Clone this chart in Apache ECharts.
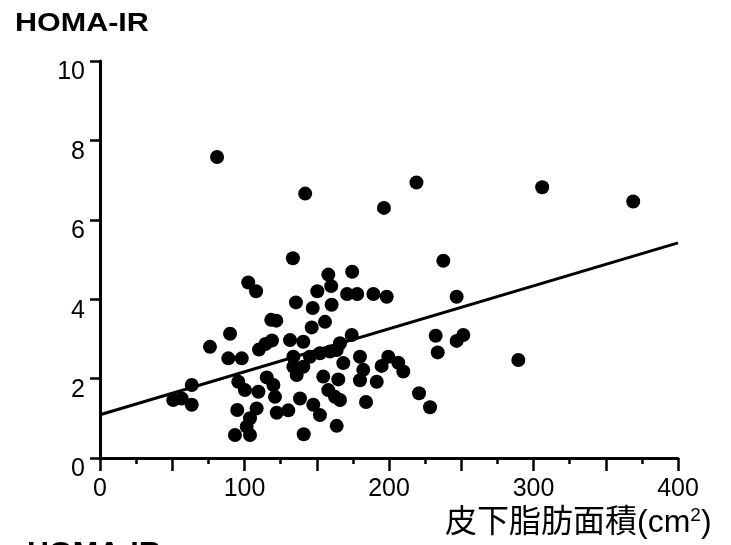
<!DOCTYPE html>
<html>
<head>
<meta charset="utf-8">
<script src="https://cdn.jsdelivr.net/npm/echarts@6/dist/echarts.min.js"></script>
<style>
html,body{margin:0;padding:0;background:#fff;}
#main{width:731px;height:545px;}
</style>
</head>
<body>
<div id="main"></div>
<script>
// Subcutaneous fat area (cm2)
const area = [81, 142, 219, 196.5, 306, 369, 133.5, 237.6, 174.5, 158,
  160, 102.6, 108, 150.4, 171, 178, 189.2, 198.4, 246.8, 135.6,
  147.2, 160.3, 118.5, 122, 155.7, 146.5, 90, 76.1, 110, 114.5,
  119, 131.5, 140.7, 174.2, 166.1, 232.3, 251.4, 246.8, 233.7, 289.5,
  88.8, 98.1, 133.8, 133.8, 136.1, 140.7, 145.3, 152.2, 159.2, 163.8,
  168.4, 179.9, 182.2, 179.9, 191.5, 194.9, 199.5, 206.4, 209.9, 115.4,
  120, 121.1, 154.5, 164.9, 158, 162.6, 166.1, 138.4, 147.6, 184.1,
  122.3, 130.3, 152.2, 163.8, 63.5, 50.7, 56.5, 63.5, 95.7, 100.3,
  109.6, 95, 108.4, 103.8, 101.5, 93.4, 103.8, 141, 220.8, 228.4];
// HOMA-IR
const homa = [7.58, 6.66, 6.94, 6.30, 6.82, 6.46, 5.03, 4.97, 4.69, 4.62,
  4.33, 4.42, 4.20, 4.20, 4.13, 4.13, 4.13, 4.06, 4.06, 3.92,
  3.78, 3.86, 3.48, 3.46, 3.43, 3.29, 3.13, 2.80, 2.73, 2.87,
  2.96, 2.97, 2.93, 3.10, 2.89, 3.08, 3.10, 2.95, 2.66, 2.47,
  2.51, 2.51, 2.55, 2.30, 2.09, 2.30, 2.55, 2.64, 2.68, 2.72,
  2.39, 2.55, 2.22, 1.96, 1.92, 2.32, 2.55, 2.40, 2.18, 2.03,
  1.84, 1.54, 2.05, 1.98, 1.71, 1.54, 1.46, 1.50, 1.34, 1.41,
  1.14, 1.20, 1.08, 0.81, 1.84, 1.46, 1.50, 1.34, 1.92, 1.71,
  1.67, 1.21, 1.25, 1.00, 0.79, 0.58, 0.58, 0.60, 1.63, 1.28];
// regression line end points
const trendX = [0, 400];
const trendY = [1.09, 5.42];
const xTickLabels = ['0', '100', '200', '300', '400'];
const yTickLabels = ['0', '2', '4', '6', '8', '10'];
const titleText = 'HOMA-IR';
const xNameMain = '皮下脂肪面積(cm';
const xNameSup = '2';
const xNameEnd = ')';

const chart = echarts.init(document.getElementById('main'), null, {renderer: 'canvas'});
const pts = area.map((x, i) => [x, homa[i]]);
const line = trendX.map((x, i) => [x, trendY[i]]);
const numFont = '"Liberation Sans", Arial, sans-serif';

chart.setOption({
  animation: false,
  backgroundColor: '#fff',
  grid: {left: 100, right: 53, top: 61, bottom: 87, containLabel: false},
  xAxis: {
    type: 'value', min: 0, max: 400, interval: 50,
    axisLine: {show: true, onZero: false, lineStyle: {color: '#000', width: 3}},
    axisTick: {show: true, length: 13, lineStyle: {color: '#000', width: 2.5}},
    minorTick: {show: true, splitNumber: 2, length: 6, lineStyle: {color: '#000', width: 2.5}},
    splitLine: {show: false},
    axisLabel: {
      show: true, margin: 17, lineHeight: 28, fontSize: 25, color: '#000',
      fontFamily: numFont, hideOverlap: false, showMinLabel: true, showMaxLabel: true,
      formatter: v => xTickLabels.indexOf(String(v)) >= 0 ? String(v) : ''
    }
  },
  yAxis: {
    type: 'value', min: 0, max: 10, interval: 2,
    axisLine: {show: true, onZero: false, lineStyle: {color: '#000', width: 3}},
    axisTick: {show: true, length: 10, lineStyle: {color: '#000', width: 2.5}},
    splitLine: {show: false},
    axisLabel: {
      show: true, margin: 15, fontSize: 25, color: '#000', fontFamily: numFont,
      verticalAlign: 'top', lineHeight: 23, showMinLabel: true, showMaxLabel: true,
      formatter: v => yTickLabels.indexOf(String(v)) >= 0 ? String(v) : ''
    }
  },
  graphic: [
    {type: 'text', x: 15, y: 24, scaleX: 1.22, scaleY: 1.04, style: {text: titleText, fill: '#000',
      font: 'bold 25px "Liberation Sans", Arial, sans-serif', verticalAlign: 'middle', align: 'left'}},
    {type: 'text', x: 27, y: 553, scaleX: 1.22, style: {text: titleText, fill: '#000',
      font: 'bold 25px "Liberation Sans", Arial, sans-serif', verticalAlign: 'middle', align: 'left'}},
    {type: 'text', x: 445, y: 523, style: {
      text: '{m|' + xNameMain + '}{s|' + xNameSup + '}{m|' + xNameEnd + '}',
      fill: '#000', verticalAlign: 'middle', align: 'left',
      rich: {
        m: {fontSize: 32, fontFamily: '"Liberation Sans", "Noto Sans CJK JP", sans-serif', fill: '#000', lineHeight: 34, verticalAlign: 'middle'},
        s: {fontSize: 19, fontFamily: '"Liberation Sans", sans-serif', fill: '#000', lineHeight: 34, verticalAlign: 'top', padding: [0, 0, 14, 0]}
      }
    }}
  ],
  series: [
    {type: 'line', data: line, showSymbol: false, symbol: 'none',
      lineStyle: {color: '#000', width: 3}, z: 2, silent: true},
    {type: 'scatter', data: pts, symbol: 'circle', symbolSize: 14,
      itemStyle: {color: '#000', opacity: 1}, z: 3, silent: true}
  ]
});
</script>
</body>
</html>
